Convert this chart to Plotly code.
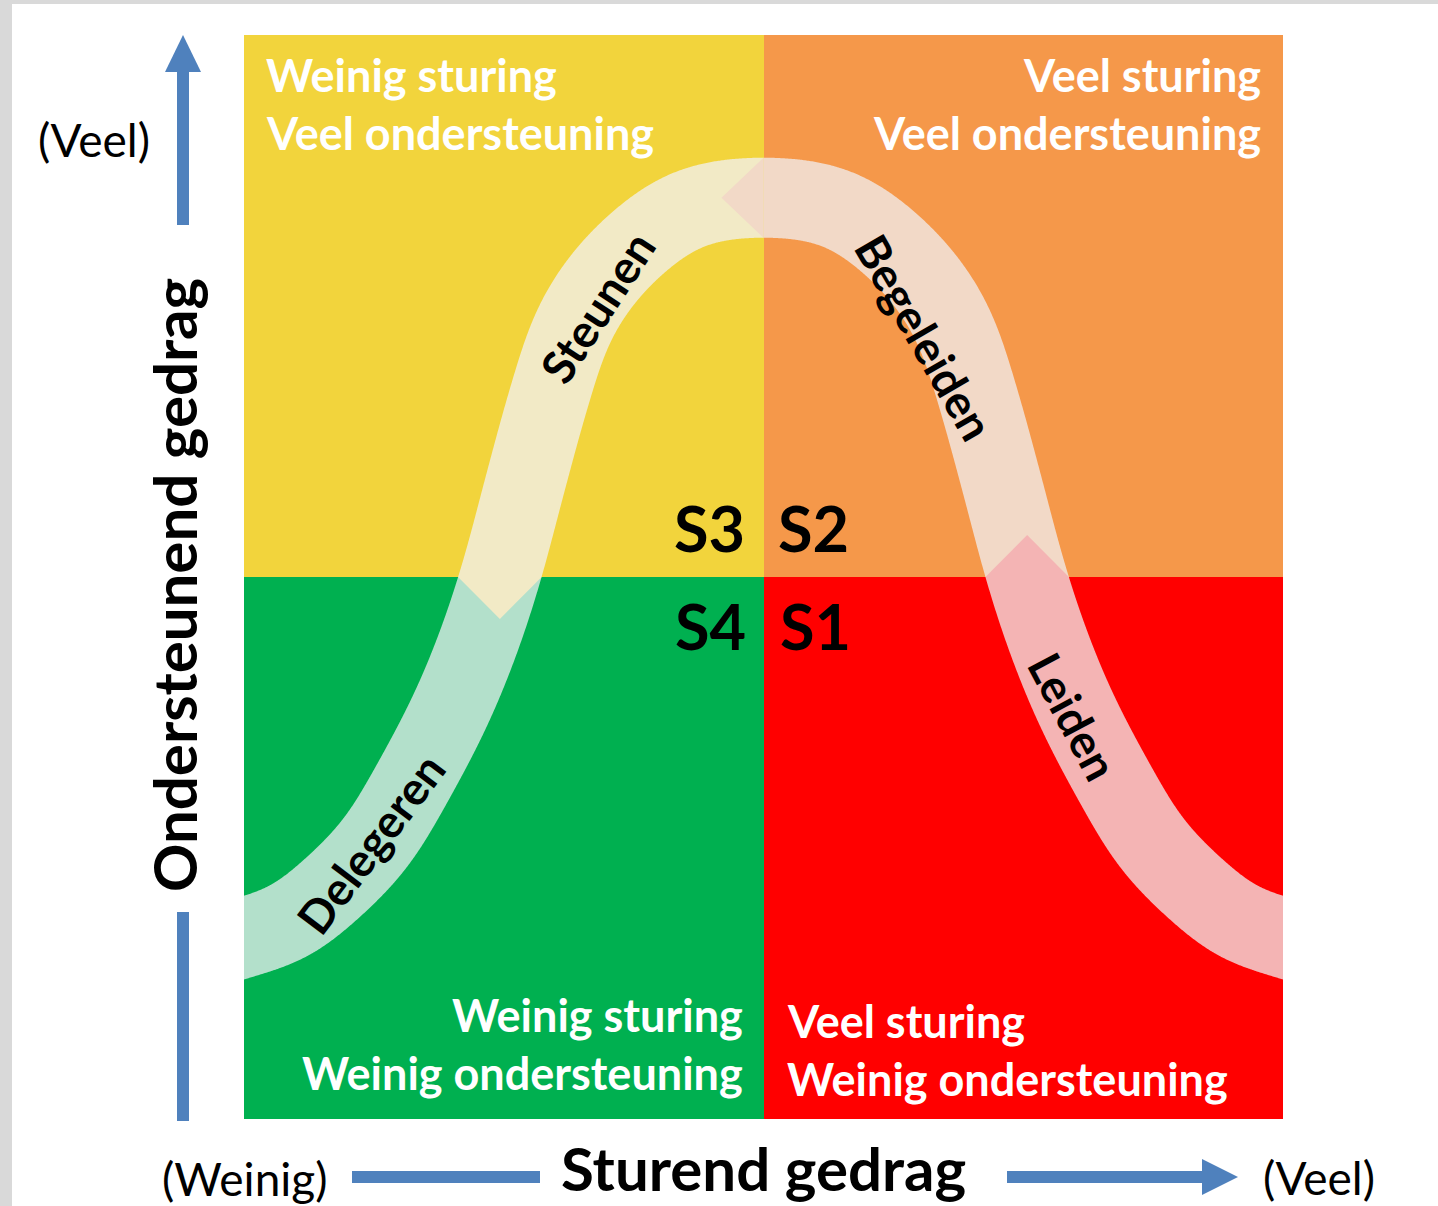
import numpy as np
import plotly.graph_objects as go

# ---------------- data ----------------
sturend_levels = ["Weinig", "Veel"]            # x categories (Sturend gedrag)
ondersteunend_levels = ["Weinig", "Veel"]      # y categories (Ondersteunend gedrag)

# quadrant index grid (rows = ondersteunend weinig/veel, cols = sturend weinig/veel)
quadrant_z = [[0, 1], [2, 3]]
quadrant_colors = ["#00B050", "#FF0000", "#F2D43C", "#F5984A"]

quadrant_text = {
    "S4": ["Weinig sturing", "Weinig ondersteuning"],
    "S1": ["Veel sturing", "Weinig ondersteuning"],
    "S3": ["Weinig sturing", "Veel ondersteuning"],
    "S2": ["Veel sturing", "Veel ondersteuning"],
}

# centre line of the curved band (chart units 0..2)
curve_x = [0.000, 0.083, 0.167, 0.252, 0.323, 0.397, 0.449, 0.493, 0.545, 0.585,
           0.631, 0.676, 0.745, 0.855, 1.000, 1.145, 1.255, 1.324, 1.369, 1.415,
           1.455, 1.507, 1.551, 1.603, 1.677, 1.748, 1.833, 1.917, 2.000]
curve_y = [0.335, 0.360, 0.423, 0.506, 0.618, 0.753, 0.873, 1.000, 1.186, 1.325,
           1.459, 1.533, 1.607, 1.681, 1.701, 1.681, 1.607, 1.533, 1.459, 1.325,
           1.186, 1.000, 0.873, 0.753, 0.618, 0.506, 0.423, 0.360, 0.335]

segment_names = ["Delegeren", "Steunen", "Begeleiden", "Leiden"]
segment_colors = ["#B3E0CB", "#F2EAC6", "#F2D9C7", "#F4B4B4"]
segment_label_x = [0.243, 0.679, 1.309, 1.596]
segment_label_y = [0.509, 1.498, 1.443, 0.742]
segment_label_angle = [-53, -57, 60, 62]

# ---------------- geometry ----------------
W, H = 1438, 1206
ML, MR, MT, MB = 244, 155, 35, 87
PW, PH = W - ML - MR, H - MT - MB
SX, SY = PW / 2.0, PH / 2.0          # px per chart unit
BAND = 80.0                            # band width in px
TIP = 42.0

cx = np.array(curve_x) * SX
cy = np.array(curve_y) * SY
P = np.column_stack([cx, cy])
# phantom end points for smooth spline + extension beyond the plot edges
for _ in range(4):
    P = np.vstack([2 * P[0] - P[1], P, 2 * P[-1] - P[-2]])


def catmull(pts, n=60, alpha=0.5):
    out = []
    for i in range(1, len(pts) - 2):
        p0, p1, p2, p3 = pts[i - 1], pts[i], pts[i + 1], pts[i + 2]
        t0 = 0.0
        t1 = t0 + np.linalg.norm(p1 - p0) ** alpha
        t2 = t1 + np.linalg.norm(p2 - p1) ** alpha
        t3 = t2 + np.linalg.norm(p3 - p2) ** alpha
        for t in np.linspace(t1, t2, n, endpoint=False):
            a1 = (t1 - t) / (t1 - t0) * p0 + (t - t0) / (t1 - t0) * p1
            a2 = (t2 - t) / (t2 - t1) * p1 + (t - t1) / (t2 - t1) * p2
            a3 = (t3 - t) / (t3 - t2) * p2 + (t - t2) / (t3 - t2) * p3
            b1 = (t2 - t) / (t2 - t0) * a1 + (t - t0) / (t2 - t0) * a2
            b2 = (t3 - t) / (t3 - t1) * a2 + (t - t1) / (t3 - t1) * a3
            out.append((t2 - t) / (t2 - t1) * b1 + (t - t1) / (t2 - t1) * b2)
    out.append(pts[-2])
    return np.array(out)


C0 = catmull(P)
# resample by arc length (1 px steps) and smooth the drawn path
seg = np.linalg.norm(np.diff(C0, axis=0), axis=1)
s = np.concatenate([[0], np.cumsum(seg)])
ss = np.arange(0, s[-1], 1.0)
C = np.column_stack([np.interp(ss, s, C0[:, 0]), np.interp(ss, s, C0[:, 1])])
sig = 22.0
k = np.arange(-int(4 * sig), int(4 * sig) + 1)
ker = np.exp(-0.5 * (k / sig) ** 2)
ker /= ker.sum()
pad = len(k) // 2
Cp = np.vstack([np.repeat(C[:1], pad, 0), C, np.repeat(C[-1:], pad, 0)])
C = np.column_stack([np.convolve(Cp[:, 0], ker, mode="valid"),
                     np.convolve(Cp[:, 1], ker, mode="valid")])

T = np.gradient(C, axis=0)
T /= np.linalg.norm(T, axis=1)[:, None]
N = np.column_stack([-T[:, 1], T[:, 0]])
upper = C + N * BAND / 2
lower = C - N * BAND / 2
band_poly = np.vstack([upper, lower[::-1]])


def clip(poly, xmin, xmax, ymin, ymax):
    def clip_edge(pts, inside, inter):
        res = []
        for i in range(len(pts)):
            a, b = pts[i - 1], pts[i]
            ia, ib = inside(a), inside(b)
            if ib:
                if not ia:
                    res.append(inter(a, b))
                res.append(b)
            elif ia:
                res.append(inter(a, b))
        return res

    def ix(xv):
        return lambda a, b: np.array([xv, a[1] + (b[1] - a[1]) * (xv - a[0]) / (b[0] - a[0])])

    def iy(yv):
        return lambda a, b: np.array([a[0] + (b[0] - a[0]) * (yv - a[1]) / (b[1] - a[1]), yv])

    pts = list(poly)
    pts = clip_edge(pts, lambda p: p[0] >= xmin, ix(xmin))
    pts = clip_edge(pts, lambda p: p[0] <= xmax, ix(xmax))
    pts = clip_edge(pts, lambda p: p[1] >= ymin, iy(ymin))
    pts = clip_edge(pts, lambda p: p[1] <= ymax, iy(ymax))
    return np.array(pts)


rects = [(0, SX, 0, SY), (0, SX, SY, 2 * SY), (SX, 2 * SX, SY, 2 * SY), (SX, 2 * SX, 0, SY)]
pieces = [clip(band_poly, *r) for r in rects]


def on_line(poly, axis, val):
    sel = poly[np.abs(poly[:, axis] - val) < 0.5]
    return sel[:, 1 - axis].min(), sel[:, 1 - axis].max()


tips = [None]
a, b = on_line(pieces[1], 1, SY)          # Steunen -> down
tips.append(np.array([[a, SY], [b, SY], [(a + b) / 2, SY - TIP]]))
a, b = on_line(pieces[2], 0, SX)          # Begeleiden -> left
tips.append(np.array([[SX, a], [SX, b], [SX - TIP, (a + b) / 2]]))
a, b = on_line(pieces[3], 1, SY)          # Leiden -> up
tips.append(np.array([[a, SY], [b, SY], [(a + b) / 2, SY + TIP]]))

fig = go.Figure()
fig.add_trace(go.Heatmap(
    x=[0.5, 1.5], y=[0.5, 1.5], z=quadrant_z, zmin=0, zmax=3,
    colorscale=[[0, quadrant_colors[0]], [1 / 6, quadrant_colors[0]],
                [1 / 6, quadrant_colors[1]], [0.5, quadrant_colors[1]],
                [0.5, quadrant_colors[2]], [5 / 6, quadrant_colors[2]],
                [5 / 6, quadrant_colors[3]], [1, quadrant_colors[3]]],
    showscale=False, hoverinfo="skip"))

for i in range(4):
    for poly in ([pieces[i]] + ([tips[i]] if tips[i] is not None else [])):
        fig.add_trace(go.Scatter(
            x=np.append(poly[:, 0], poly[0, 0]) / SX,
            y=np.append(poly[:, 1], poly[0, 1]) / SY,
            mode="lines", fill="toself", fillcolor=segment_colors[i],
            line=dict(width=0, color=segment_colors[i], simplify=False),
            hoverinfo="skip", showlegend=False))

FONT = "Lato"


def px(x):
    return (x - ML) / PW


def py(y):
    return (H - MB - y) / PH


ann = []


def txt(text, x, y, size, color="black", bold=True, xa="center", angle=0):
    ann.append(dict(text=text, x=px(x), y=py(y), xref="paper", yref="paper",
                    showarrow=False, xanchor=xa, yanchor="middle", textangle=angle,
                    font=dict(family=FONT, size=size, color=color,
                              weight="bold" if bold else "normal")))


QS = 45
txt(quadrant_text["S3"][0], 264, 75, QS, "white", xa="left")
txt(quadrant_text["S3"][1], 264, 133, QS, "white", xa="left")
txt(quadrant_text["S2"][0], 1263, 75, QS, "white", xa="right")
txt(quadrant_text["S2"][1], 1263, 133, QS, "white", xa="right")
txt(quadrant_text["S4"][0], 745, 1015, QS, "white", xa="right")
txt(quadrant_text["S4"][1], 745, 1073, QS, "white", xa="right")
txt(quadrant_text["S1"][0], 785, 1021, QS, "white", xa="left")
txt(quadrant_text["S1"][1], 785, 1079, QS, "white", xa="left")

txt("S3", 747, 527, 63, xa="right")
txt("S2", 776, 527, 63, xa="left")
txt("S4", 748, 625, 63, xa="right")
txt("S1", 778, 625, 63, xa="left")

for name, lx, ly, ang in zip(segment_names, segment_label_x, segment_label_y, segment_label_angle):
    ann.append(dict(text=name, x=lx, y=ly, xref="x", yref="y", showarrow=False,
                    xanchor="center", yanchor="middle", textangle=ang,
                    font=dict(family=FONT, size=46, color="black", weight="bold")))

txt("Ondersteunend gedrag", 174, 585, 60, angle=-90)
txt("Sturend gedrag", 763, 1168, 60)
txt("(" + ondersteunend_levels[1] + ")", 94, 140, 46, bold=False)
txt("(" + sturend_levels[0] + ")", 245, 1178, 46, bold=False)
txt("(" + sturend_levels[1] + ")", 1319, 1177, 46, bold=False)

BLUE = "#4F81BD"
shapes = []


def rect(x0, y0, x1, y1, color):
    shapes.append(dict(type="rect", xref="paper", yref="paper", x0=px(x0), x1=px(x1),
                       y0=py(y0), y1=py(y1), fillcolor=color, line=dict(width=0), layer="above"))


def tri(pts, color):
    path = "M " + " L ".join(f"{px(a)},{py(b)}" for a, b in pts) + " Z"
    shapes.append(dict(type="path", xref="paper", yref="paper", path=path,
                       fillcolor=color, line=dict(width=0), layer="above"))


rect(0, 0, 12, H, "#D9D9D9")
rect(0, 0, W, 4, "#D9D9D9")
rect(177, 70, 189, 225, BLUE)
tri([(165, 72), (201, 72), (183, 35)], BLUE)
rect(177, 912, 189, 1121, BLUE)
rect(352, 1171, 540, 1183, BLUE)
rect(1007, 1171, 1204, 1183, BLUE)
tri([(1202, 1159), (1202, 1195), (1238, 1177)], BLUE)

fig.update_layout(
    width=W, height=H, margin=dict(l=ML, r=MR, t=MT, b=MB, pad=0),
    paper_bgcolor="white", plot_bgcolor="white", showlegend=False,
    xaxis=dict(range=[0, 2], visible=False, fixedrange=True),
    yaxis=dict(range=[0, 2], visible=False, fixedrange=True),
    annotations=ann, shapes=shapes)

fig.write_html("out.html", config={"displayModeBar": False},
               post_script="document.body.style.margin='0px';document.body.style.overflow='hidden';")
